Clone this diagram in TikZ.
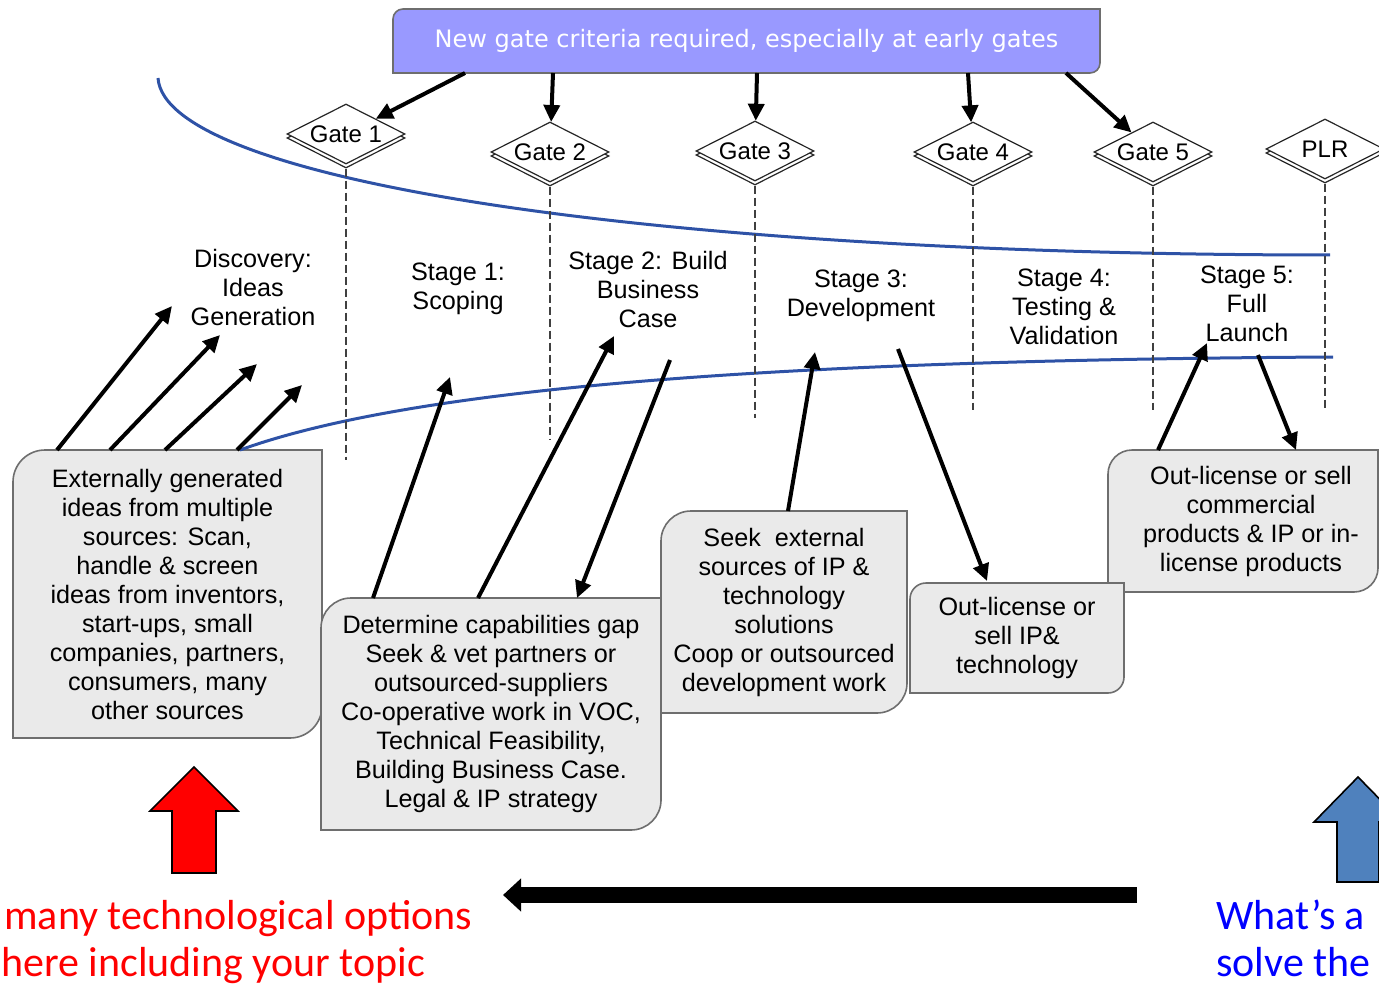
\documentclass[tikz,border=0pt]{standalone}
\usepackage{fontspec}
\setmainfont{Liberation Sans}
\newfontfamily\bannerfont{DejaVu Sans}
\newfontfamily\notefont{Carlito}
\usetikzlibrary{arrows.meta,shapes.geometric,shadows,backgrounds,calc}

\definecolor{bannerfill}{HTML}{9999FF}
\definecolor{boxfill}{HTML}{EAEAEA}
\definecolor{boxgray}{HTML}{6E6E6E}
\definecolor{curveblue}{HTML}{2E52A6}
\definecolor{notered}{HTML}{FF0000}
\definecolor{noteblue}{HTML}{0000FF}
\definecolor{arrowblue}{HTML}{4F81BD}

\tikzset{
  stagefont/.style={font=\fontsize{12.6}{14.5}\selectfont},
  stagebox/.style={stagefont, align=center, inner sep=0pt, outer sep=0pt},
  stagelabel/.style={stagefont, align=center, inner sep=0pt},
  gatediamond/.style={diamond, aspect=2, draw=black!85, line width=0.6pt, fill=white,
    inner sep=0pt, minimum width=59pt, minimum height=30pt,
    font=\fontsize{12}{14}\selectfont,
    copy shadow={shadow xshift=0pt, shadow yshift=-2pt}},
  gateline/.style={draw=black!75, line width=0.6pt, dash pattern=on 4pt off 2pt},
  arr/.style={line width=2pt, -{Triangle[length=8.5pt,width=8pt]}},
  bluecurve/.style={draw=curveblue, line width=1.5pt},
  boxedge/.style={draw=boxgray, line width=0.8pt},
  rednote/.style={font=\notefont\fontsize{21}{25}\selectfont, text=notered, inner sep=0pt, anchor=base west},
  bluenote/.style={font=\notefont\fontsize{21}{25}\selectfont, text=noteblue, inner sep=0pt, anchor=base west},
}

% outline with rounded top-left and bottom-right corners, behind the node
\newcommand{\cornerbox}[3][boxfill]{%
  \begin{scope}[on background layer]
    \draw[boxedge, fill=#1] (#2.south west) [rounded corners=#3] -- (#2.north west)
      [sharp corners] -- (#2.north east) [rounded corners=#3] -- (#2.south east)
      [sharp corners] -- cycle;
  \end{scope}}

\begin{document}
\begin{tikzpicture}[x=0.5pt,y=-0.5pt]
\useasboundingbox (0,0) rectangle (1379,989);
\clip (0,0) rectangle (1379,989);

% banner
\node[inner sep=0pt, outer sep=0pt, minimum width=353.5pt, minimum height=32pt,
  text=white, font=\bannerfont\fontsize{12}{14}\selectfont] (banner) at (746.5,41)
  {New gate criteria required, especially at early gates};
\cornerbox[bannerfill]{banner}{5pt}

% curves
\coordinate (cu1) at (158,78);
\coordinate (cu2) at (1330,255);
\coordinate (cl2) at (1333,357);

% boxes
\node[stagebox, minimum width=154.5pt, minimum height=144pt] (box1) at (167.5,594)
  {\rule{0pt}{6pt}Externally generated\\ ideas from multiple\\ sources: Scan,\\ handle \& screen\\
   ideas from inventors,\\ start-ups, small\\ companies, partners,\\ consumers, many\\ other sources};
\node[stagebox, minimum width=170pt, minimum height=116pt] (box2) at (491,714)
  {Determine capabilities gap\\ Seek \& vet partners or\\ outsourced-suppliers\\
   Co-operative work in VOC,\\ Technical Feasibility,\\ Building Business Case.\\ Legal \& IP strategy};
\node[stagebox, minimum width=123pt, minimum height=101pt] (box3) at (784,612)
  {Seek\ \ external\\ sources of IP \&\\ technology\\ solutions\\ Coop or outsourced\\ development work};
\node[stagebox, minimum width=107pt, minimum height=55pt] (box4) at (1017,638)
  {Out-license or\\ sell IP\&\\ technology};
\node[stagebox, minimum width=135pt, minimum height=71pt] (box5) at (1243,521)
  {\hspace*{8pt}Out-license or sell\\ \hspace*{8pt}commercial\\ \hspace*{8pt}products \& IP or in-\\ \hspace*{8pt}license products};
\cornerbox{box1}{16pt}
\cornerbox{box2}{15pt}
\cornerbox{box3}{15pt}
\cornerbox{box5}{12pt}
\cornerbox{box4}{8pt}

\draw[bluecurve] (cu1) .. controls (165,180) and (650,255) .. (cu2);
\draw[bluecurve] ($(box1.north west)+(227,0)$) .. controls (420,385) and (800,360) .. (cl2);

% gates
\node[gatediamond] (g1) at (346,134) {Gate 1};
\node[gatediamond] (g2) at (550,152) {Gate 2};
\node[gatediamond] (g3) at (755,151) {Gate 3};
\node[gatediamond] (g4) at (973,152) {Gate 4};
\node[gatediamond] (g5) at (1153,152) {Gate 5};
\node[gatediamond] (plr) at (1325,149) {PLR};

\draw[gateline] ($(g1.south)+(0,4)$) -- (g1.south |- 0,460);
\draw[gateline] ($(g2.south)+(0,4)$) -- (g2.south |- 0,440);
\draw[gateline] ($(g3.south)+(0,4)$) -- (g3.south |- 0,418);
\draw[gateline] ($(g4.south)+(0,4)$) -- (g4.south |- 0,410);
\draw[gateline] ($(g5.south)+(0,4)$) -- (g5.south |- 0,410);
\draw[gateline] ($(plr.south)+(0,4)$) -- (plr.south |- 0,410);

\draw[arr] ($(banner.south west)+(72,0)$) -- (g1);
\draw[arr] ($(banner.south west)+(160,0)$) -- (g2);
\draw[arr] ($(banner.south west)+(364,0)$) -- (g3);
\draw[arr] ($(banner.south west)+(575,0)$) -- (g4);
\draw[arr] ($(banner.south west)+(673,0)$) -- (g5);

% stage labels
\node[stagelabel] (st0) at (253,287) {Discovery:\\ Ideas\\ Generation};
\node[stagelabel] (st1) at (458,289) {Stage 1:\\ Scoping};
\node[stagelabel] (st2) at (648,289) {Stage 2: Build\\ Business\\ Case};
\node[stagelabel] (st3) at (861,296) {Stage 3:\\ Development};
\node[stagelabel] (st4) at (1064,307) {Stage 4:\\ Testing \&\\ Validation};
\node[stagelabel] (st5) at (1247,304) {Stage 5:\\ Full\\ Launch};

% arrow ends
\coordinate (dsc1) at (172,306);
\coordinate (dsc2) at (220,335);
\coordinate (dsc3) at (257,364);
\coordinate (dsc4) at (302,385);
\coordinate (sc1) at (450,377);
\coordinate (bc1) at (614,336);
\coordinate (bc2) at (670,360);
\coordinate (dv1) at (815,352);
\coordinate (dv2) at (898,349);
\coordinate (ln1) at (1207,343);
\coordinate (ln2) at (1258,355);

\draw[arr] ($(box1.north west)+(44,0)$) -- (dsc1);
\draw[arr] ($(box1.north west)+(97,0)$) -- (dsc2);
\draw[arr] ($(box1.north west)+(152,0)$) -- (dsc3);
\draw[arr] ($(box1.north west)+(224,0)$) -- (dsc4);
\draw[arr] ($(box2.north west)+(52,0)$) -- (sc1);
\draw[arr] ($(box2.north west)+(157,0)$) -- (bc1);
\draw[arr] (bc2) -- ($(box2.north west)+(256,0)$);
\draw[arr] ($(box3.north west)+(127,0)$) -- (dv1);
\draw[arr] (dv2) -- ($(box4.north west)+(77,-2)$);
\draw[arr] ($(box5.north west)+(50,0)$) -- (ln1);
\draw[arr] (ln2) -- ($(box5.north west)+(188,0)$);

% block arrows
\draw[fill=notered, draw=black, line width=0.8pt] (194,767) -- (238,811) -- (216,811) -- (216,873)
  -- (172,873) -- (172,811) -- (150,811) -- cycle;
\draw[fill=arrowblue, draw=black, line width=0.8pt] (1358,777) -- (1402,822) -- (1379,822) -- (1379,882)
  -- (1337,882) -- (1337,822) -- (1314,822) -- cycle;
\coordinate (hs) at (1137,895);
\coordinate (he) at (503,895);
\draw[line width=8pt, -{Triangle[length=9pt,width=16pt]}] (hs) -- (he);

% notes
\node[rednote] (opt1) at (4,929) {many technological options};
\node[rednote] (opt2) at (1,976) {here including your topic};
\node[bluenote] (ask1) at (1216,929) {What’s a};
\node[bluenote] (ask2) at (1216,976) {solve the};

\end{tikzpicture}
\end{document}
